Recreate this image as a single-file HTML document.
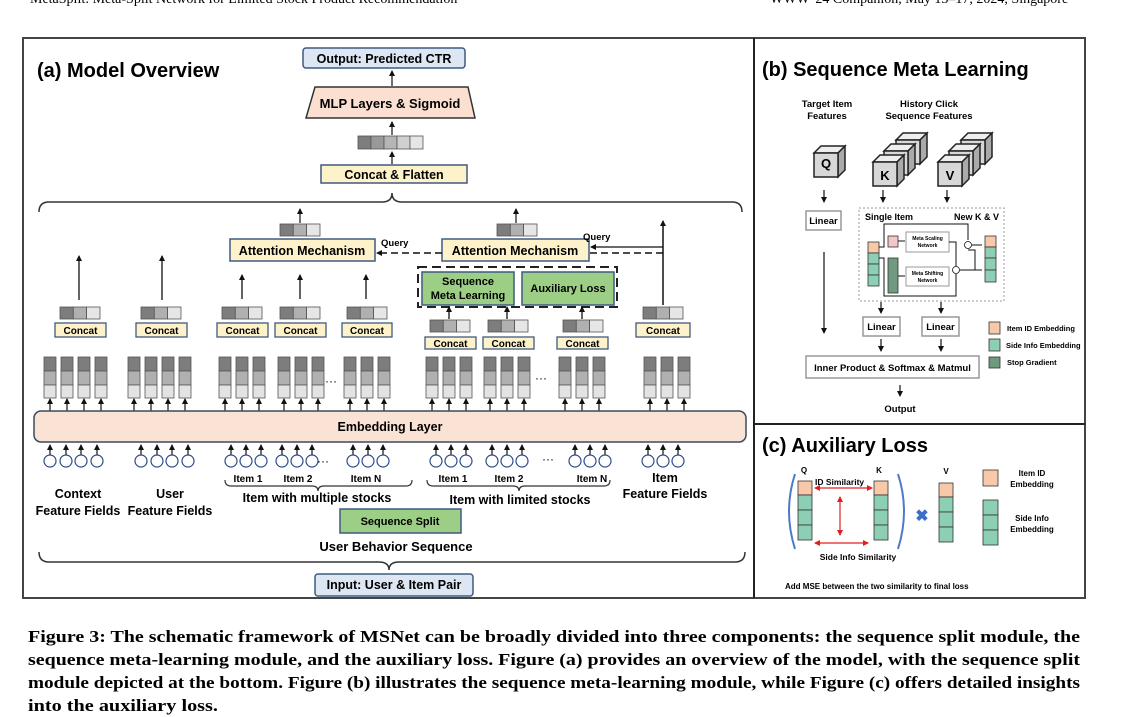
<!DOCTYPE html>
<html><head><meta charset="utf-8"><style>
html,body{margin:0;padding:0;background:#fff;}
svg{display:block;font-family:"Liberation Sans",sans-serif;}
</style></head><body>
<svg width="1142" height="717" viewBox="0 0 1142 717" xmlns="http://www.w3.org/2000/svg">
<defs>
<marker id="ah" markerWidth="6" markerHeight="6" refX="5" refY="3" orient="auto" markerUnits="userSpaceOnUse"><path d="M0,0 L6,3 L0,6 z" fill="#111"/></marker>
<marker id="rh" markerWidth="6" markerHeight="6" refX="5" refY="3" orient="auto-start-reverse" markerUnits="userSpaceOnUse"><path d="M0,0 L6,3 L0,6 z" fill="#e02020"/></marker>
<g id="col"><rect x="0" y="0" width="12" height="14" fill="#7d7d7d" stroke="#555" stroke-width="0.8"/><rect x="0" y="14" width="12" height="14" fill="#b0b0b0" stroke="#555" stroke-width="0.8"/><rect x="0" y="28" width="12" height="13" fill="#e3e3e3" stroke="#555" stroke-width="0.8"/></g>
<g id="v3"><rect x="0" y="0" width="13.3" height="12" fill="#7d7d7d" stroke="#555" stroke-width="0.8"/><rect x="13.3" y="0" width="13.3" height="12" fill="#b0b0b0" stroke="#555" stroke-width="0.8"/><rect x="26.6" y="0" width="13.4" height="12" fill="#e6e6e6" stroke="#555" stroke-width="0.8"/></g>
<g id="cube"><polygon points="0,7 7,0 31,0 24,7" fill="#eee" stroke="#222" stroke-width="1.5"/><polygon points="24,7 31,0 31,24 24,31" fill="#aaa" stroke="#222" stroke-width="1.5"/><rect x="0" y="7" width="24" height="24" fill="#d8d8d8" stroke="#222" stroke-width="1.5"/></g>
<g id="ca"><line x1="0" y1="0" x2="0" y2="-12" stroke="#111" stroke-width="1.2" marker-end="url(#ah)"/></g>
<g id="cc"><line x1="0" y1="-6" x2="0" y2="-16" stroke="#111" stroke-width="1.2" marker-end="url(#ah)"/><circle cx="0" cy="0" r="6" fill="#fff" stroke="#2d4a8a" stroke-width="1.2"/></g>
</defs>

<!-- header -->
<text x="30" y="3" font-family="Liberation Serif,serif" font-size="14">MetaSplit: Meta-Split Network for Limited Stock Product Recommendation</text>
<text x="770" y="3" font-family="Liberation Serif,serif" font-size="14">WWW '24 Companion, May 13–17, 2024, Singapore</text>

<!-- frame -->
<rect x="23" y="38" width="1062" height="560" fill="none" stroke="#444" stroke-width="2"/>
<line x1="754" y1="38" x2="754" y2="598" stroke="#222" stroke-width="2"/>
<line x1="754" y1="424" x2="1085" y2="424" stroke="#222" stroke-width="2"/>

<!-- (a) -->
<text x="37" y="77" font-size="20" font-weight="bold">(a) Model Overview</text>
<rect x="303" y="48" width="162" height="20" rx="3" fill="#dde6f3" stroke="#3f5a80" stroke-width="1.5"/>
<text x="384" y="63" font-size="12.5" font-weight="bold" text-anchor="middle">Output: Predicted CTR</text>
<line x1="392" y1="86" x2="392" y2="71" stroke="#111" stroke-width="1.2" marker-end="url(#ah)"/>
<polygon points="315,87 468,87 475,118 306,118" fill="#fbe0d2" stroke="#333" stroke-width="1.5"/>
<text x="390" y="108" font-size="13" font-weight="bold" text-anchor="middle">MLP Layers &amp; Sigmoid</text>
<line x1="392" y1="135" x2="392" y2="122" stroke="#111" stroke-width="1.2" marker-end="url(#ah)"/>
<g stroke="#555" stroke-width="0.8"><rect x="358" y="136" width="13" height="13" fill="#7d7d7d"/><rect x="371" y="136" width="13" height="13" fill="#999"/><rect x="384" y="136" width="13" height="13" fill="#b5b5b5"/><rect x="397" y="136" width="13" height="13" fill="#d0d0d0"/><rect x="410" y="136" width="13" height="13" fill="#e6e6e6"/></g>
<line x1="392" y1="164" x2="392" y2="152" stroke="#111" stroke-width="1.2" marker-end="url(#ah)"/>
<rect x="321" y="165" width="146" height="18" fill="#fdf2c9" stroke="#3f5a80" stroke-width="1.5"/>
<text x="394" y="179" font-size="12.5" font-weight="bold" text-anchor="middle">Concat &amp; Flatten</text>
<path d="M39,212 Q39,202 49,202 L382,202 Q392,202 392,193 Q392,202 402,202 L732,202 Q742,202 742,212" fill="none" stroke="#333" stroke-width="1.5"/>

<!-- attention -->
<line x1="300" y1="223" x2="300" y2="209" stroke="#111" stroke-width="1.2" marker-end="url(#ah)"/>
<use href="#v3" x="280" y="224"/>
<rect x="230" y="239" width="145" height="22" fill="#fdf2c9" stroke="#3f5a80" stroke-width="1.5"/>
<text x="302" y="255" font-size="12.5" font-weight="bold" text-anchor="middle">Attention Mechanism</text>
<line x1="516" y1="223" x2="516" y2="209" stroke="#111" stroke-width="1.2" marker-end="url(#ah)"/>
<use href="#v3" x="497" y="224"/>
<rect x="442" y="239" width="147" height="22" fill="#fdf2c9" stroke="#3f5a80" stroke-width="1.5"/>
<text x="515" y="255" font-size="12.5" font-weight="bold" text-anchor="middle">Attention Mechanism</text>
<line x1="442" y1="253" x2="377" y2="253" stroke="#111" stroke-width="1.5" stroke-dasharray="7,4" marker-end="url(#ah)"/>
<text x="381" y="246" font-size="9.5" font-weight="bold">Query</text>
<line x1="663" y1="247" x2="591" y2="247" stroke="#111" stroke-width="1.2" marker-end="url(#ah)"/>
<line x1="663" y1="253" x2="590" y2="253" stroke="#111" stroke-width="1.5" stroke-dasharray="7,4"/>
<text x="583" y="240" font-size="9.5" font-weight="bold">Query</text>
<line x1="663" y1="305" x2="663" y2="221" stroke="#111" stroke-width="1.5" marker-end="url(#ah)"/>
<rect x="418" y="267" width="199" height="40" fill="none" stroke="#222" stroke-width="2" stroke-dasharray="9,5"/>
<rect x="422" y="272" width="92" height="33" fill="#9ccf85" stroke="#3f5a80" stroke-width="1.5"/>
<text x="468" y="285" font-size="11" font-weight="bold" text-anchor="middle">Sequence</text>
<text x="468" y="299" font-size="11" font-weight="bold" text-anchor="middle">Meta Learning</text>
<rect x="522" y="272" width="92" height="33" fill="#9ccf85" stroke="#3f5a80" stroke-width="1.5"/>
<text x="568" y="292" font-size="11" font-weight="bold" text-anchor="middle">Auxiliary Loss</text>

<!-- up arrows -->
<g stroke="#111" stroke-width="1.3" marker-end="url(#ah)">
<line x1="79" y1="300" x2="79" y2="256"/><line x1="162" y1="300" x2="162" y2="256"/>
<line x1="242" y1="299" x2="242" y2="275"/><line x1="300" y1="299" x2="300" y2="275"/><line x1="366" y1="299" x2="366" y2="275"/>
<line x1="449" y1="319" x2="449" y2="307"/><line x1="507" y1="319" x2="507" y2="307"/><line x1="582" y1="319" x2="582" y2="307"/>
</g>
<!-- concat groups -->
<g font-size="10" font-weight="bold" text-anchor="middle">
<use href="#v3" x="60" y="307"/><rect x="55" y="323" width="51" height="14" fill="#fdf2c9" stroke="#3f5a80" stroke-width="1.3"/><text x="80.5" y="334">Concat</text>
<use href="#v3" x="141" y="307"/><rect x="136" y="323" width="51" height="14" fill="#fdf2c9" stroke="#3f5a80" stroke-width="1.3"/><text x="161.5" y="334">Concat</text>
<use href="#v3" x="222" y="307"/><rect x="217" y="323" width="51" height="14" fill="#fdf2c9" stroke="#3f5a80" stroke-width="1.3"/><text x="242.5" y="334">Concat</text>
<use href="#v3" x="280" y="307"/><rect x="275" y="323" width="51" height="14" fill="#fdf2c9" stroke="#3f5a80" stroke-width="1.3"/><text x="300.5" y="334">Concat</text>
<use href="#v3" x="347" y="307"/><rect x="342" y="323" width="50" height="14" fill="#fdf2c9" stroke="#3f5a80" stroke-width="1.3"/><text x="367" y="334">Concat</text>
<use href="#v3" x="643" y="307"/><rect x="636" y="323" width="54" height="14" fill="#fdf2c9" stroke="#3f5a80" stroke-width="1.3"/><text x="663" y="334">Concat</text>
<use href="#v3" x="430" y="320"/><rect x="425" y="337" width="51" height="12" fill="#fdf2c9" stroke="#3f5a80" stroke-width="1.3"/><text x="450.5" y="347">Concat</text>
<use href="#v3" x="488" y="320"/><rect x="483" y="337" width="51" height="12" fill="#fdf2c9" stroke="#3f5a80" stroke-width="1.3"/><text x="508.5" y="347">Concat</text>
<use href="#v3" x="563" y="320"/><rect x="557" y="337" width="51" height="12" fill="#fdf2c9" stroke="#3f5a80" stroke-width="1.3"/><text x="582.5" y="347">Concat</text>
</g>

<!-- embedding columns -->
<g>
<use href="#col" x="44" y="357"/><use href="#col" x="61" y="357"/><use href="#col" x="78" y="357"/><use href="#col" x="95" y="357"/>
<use href="#col" x="128" y="357"/><use href="#col" x="145" y="357"/><use href="#col" x="162" y="357"/><use href="#col" x="179" y="357"/>
<use href="#col" x="219" y="357"/><use href="#col" x="236" y="357"/><use href="#col" x="253" y="357"/>
<use href="#col" x="278" y="357"/><use href="#col" x="295" y="357"/><use href="#col" x="312" y="357"/>
<use href="#col" x="344" y="357"/><use href="#col" x="361" y="357"/><use href="#col" x="378" y="357"/>
<use href="#col" x="426" y="357"/><use href="#col" x="443" y="357"/><use href="#col" x="460" y="357"/>
<use href="#col" x="484" y="357"/><use href="#col" x="501" y="357"/><use href="#col" x="518" y="357"/>
<use href="#col" x="559" y="357"/><use href="#col" x="576" y="357"/><use href="#col" x="593" y="357"/>
<use href="#col" x="644" y="357"/><use href="#col" x="661" y="357"/><use href="#col" x="678" y="357"/>
</g>
<text x="331" y="385" font-size="12" text-anchor="middle">···</text>
<text x="541" y="382" font-size="12" text-anchor="middle">···</text>
<g transform="translate(0,411)">
<use href="#ca" x="50"/><use href="#ca" x="67"/><use href="#ca" x="84"/><use href="#ca" x="101"/>
<use href="#ca" x="134"/><use href="#ca" x="151"/><use href="#ca" x="168"/><use href="#ca" x="185"/>
<use href="#ca" x="225"/><use href="#ca" x="242"/><use href="#ca" x="259"/>
<use href="#ca" x="284"/><use href="#ca" x="301"/><use href="#ca" x="318"/>
<use href="#ca" x="350"/><use href="#ca" x="367"/><use href="#ca" x="384"/>
<use href="#ca" x="432"/><use href="#ca" x="449"/><use href="#ca" x="466"/>
<use href="#ca" x="490"/><use href="#ca" x="507"/><use href="#ca" x="524"/>
<use href="#ca" x="565"/><use href="#ca" x="582"/><use href="#ca" x="599"/>
<use href="#ca" x="650"/><use href="#ca" x="667"/><use href="#ca" x="684"/>
</g>
<rect x="34" y="411" width="712" height="31" rx="7" fill="#fae3d5" stroke="#3c4a5c" stroke-width="1.5"/>
<text x="390" y="431" font-size="12.5" font-weight="bold" text-anchor="middle">Embedding Layer</text>
<g transform="translate(0,461)">
<use href="#cc" x="50"/><use href="#cc" x="66"/><use href="#cc" x="81"/><use href="#cc" x="97"/>
<use href="#cc" x="141"/><use href="#cc" x="157"/><use href="#cc" x="172"/><use href="#cc" x="188"/>
<use href="#cc" x="231"/><use href="#cc" x="246"/><use href="#cc" x="261"/>
<use href="#cc" x="282"/><use href="#cc" x="297"/><use href="#cc" x="312"/>
<use href="#cc" x="353"/><use href="#cc" x="368"/><use href="#cc" x="383"/>
<use href="#cc" x="436"/><use href="#cc" x="451"/><use href="#cc" x="466"/>
<use href="#cc" x="492"/><use href="#cc" x="507"/><use href="#cc" x="522"/>
<use href="#cc" x="575"/><use href="#cc" x="590"/><use href="#cc" x="605"/>
<use href="#cc" x="648"/><use href="#cc" x="663"/><use href="#cc" x="678"/>
</g>
<text x="323" y="465" font-size="12" text-anchor="middle">···</text>
<text x="548" y="463" font-size="12" text-anchor="middle">···</text>
<g font-size="10" font-weight="bold" text-anchor="middle">
<text x="248" y="482">Item 1</text><text x="298" y="482">Item 2</text><text x="366" y="482">Item N</text>
<text x="453" y="482">Item 1</text><text x="509" y="482">Item 2</text><text x="592" y="482">Item N</text>
</g>
<path d="M225,480 Q225,486 231,486 L312,486 Q318,486 318,491 Q318,486 324,486 L406,486 Q412,486 412,480" fill="none" stroke="#333" stroke-width="1.2"/>
<path d="M427,480 Q427,486 433,486 L513,486 Q519,486 519,491 Q519,486 525,486 L604,486 Q610,486 610,480" fill="none" stroke="#333" stroke-width="1.2"/>
<g font-size="12.5" font-weight="bold" text-anchor="middle">
<text x="317" y="502">Item with multiple stocks</text>
<text x="520" y="504">Item with limited stocks</text>
<text x="78" y="498">Context</text><text x="78" y="515">Feature Fields</text>
<text x="170" y="498">User</text><text x="170" y="515">Feature Fields</text>
<text x="665" y="482">Item</text><text x="665" y="498">Feature Fields</text>
</g>
<rect x="340" y="509" width="121" height="24" fill="#9ccf85" stroke="#3f5a80" stroke-width="1.5"/>
<text x="400" y="525" font-size="11" font-weight="bold" text-anchor="middle">Sequence Split</text>
<text x="396" y="551" font-size="13" font-weight="bold" text-anchor="middle">User Behavior Sequence</text>
<path d="M39,552 Q39,562 49,562 L379,562 Q389,562 389,570 Q389,562 399,562 L735,562 Q745,562 745,552" fill="none" stroke="#333" stroke-width="1.5"/>
<rect x="315" y="574" width="158" height="22" rx="3" fill="#dde6f3" stroke="#3f5a80" stroke-width="1.5"/>
<text x="394" y="589" font-size="12.5" font-weight="bold" text-anchor="middle">Input: User &amp; Item Pair</text>

<!-- (b) -->
<text x="762" y="76" font-size="20" font-weight="bold">(b) Sequence Meta Learning</text>
<g font-size="9.5" font-weight="bold" text-anchor="middle">
<text x="827" y="107">Target Item</text><text x="827" y="119">Features</text>
<text x="929" y="107">History Click</text><text x="929" y="119">Sequence Features</text>
</g>
<use href="#cube" x="814" y="146"/>
<text x="826" y="168" font-size="13" font-weight="bold" text-anchor="middle">Q</text>
<use href="#cube" x="896" y="133"/><use href="#cube" x="884" y="144"/><use href="#cube" x="873" y="155"/>
<text x="885" y="180" font-size="13" font-weight="bold" text-anchor="middle">K</text>
<use href="#cube" x="961" y="133"/><use href="#cube" x="949" y="144"/><use href="#cube" x="938" y="155"/>
<text x="950" y="180" font-size="13" font-weight="bold" text-anchor="middle">V</text>
<g stroke="#111" stroke-width="1.2" marker-end="url(#ah)">
<line x1="824" y1="190" x2="824" y2="202"/><line x1="883" y1="190" x2="883" y2="202"/><line x1="947" y1="190" x2="947" y2="202"/>
<line x1="824" y1="252" x2="824" y2="333"/>
<line x1="881" y1="302" x2="881" y2="313"/><line x1="941" y1="302" x2="941" y2="313"/>
<line x1="881" y1="339" x2="881" y2="351"/><line x1="941" y1="339" x2="941" y2="351"/>
<line x1="900" y1="385" x2="900" y2="396"/>
</g>
<rect x="806" y="211" width="35" height="19" fill="#fff" stroke="#999" stroke-width="1.5"/>
<text x="823.5" y="224" font-size="9.5" font-weight="bold" text-anchor="middle">Linear</text>
<rect x="859" y="208" width="145" height="93" fill="none" stroke="#999" stroke-width="1" stroke-dasharray="2,2"/>
<text x="865" y="220" font-size="9" font-weight="bold">Single Item</text>
<text x="999" y="220" font-size="9" font-weight="bold" text-anchor="end">New K &amp; V</text>
<!-- inner -->
<rect x="868" y="242" width="11" height="11" fill="#f8c9a8" stroke="#333" stroke-width="0.8"/>
<rect x="868" y="253" width="11" height="11" fill="#8ccfb5" stroke="#333" stroke-width="0.8"/>
<rect x="868" y="264" width="11" height="11" fill="#8ccfb5" stroke="#333" stroke-width="0.8"/>
<rect x="868" y="275" width="11" height="11" fill="#8ccfb5" stroke="#333" stroke-width="0.8"/>
<rect x="888" y="236" width="10" height="11" fill="#f4c6c6" stroke="#333" stroke-width="0.8"/>
<rect x="888" y="258" width="10" height="35" fill="#6f9a80" stroke="#333" stroke-width="0.8"/>
<rect x="906" y="232" width="43" height="20" fill="#fff" stroke="#999" stroke-width="1"/>
<text x="927.5" y="240" font-size="5" font-weight="bold" text-anchor="middle">Meta Scaling</text><text x="927.5" y="247" font-size="5" font-weight="bold" text-anchor="middle">Network</text>
<rect x="906" y="267" width="43" height="19" fill="#fff" stroke="#999" stroke-width="1"/>
<text x="927.5" y="275" font-size="5" font-weight="bold" text-anchor="middle">Meta Shifting</text><text x="927.5" y="282" font-size="5" font-weight="bold" text-anchor="middle">Network</text>
<g fill="none" stroke="#111" stroke-width="1">
<path d="M879,247 L884,247 L884,224 L968,224 L968,240"/>
<path d="M879,258 L884,258 L884,296 L956,296 L956,274"/>
<line x1="898" y1="241" x2="905" y2="241"/><line x1="898" y1="276" x2="905" y2="276"/>
<path d="M949,242 L956,242 L956,266"/>
<path d="M960,270 L975,270 L975,250 L968,250"/>
<line x1="972" y1="245" x2="982" y2="245"/><line x1="961" y1="270" x2="982" y2="270"/>
</g>
<circle cx="968" cy="245" r="3.5" fill="#fff" stroke="#111" stroke-width="0.8"/>
<circle cx="956" cy="270" r="3.5" fill="#fff" stroke="#111" stroke-width="0.8"/>
<rect x="985" y="236" width="11" height="11" fill="#f8c9a8" stroke="#333" stroke-width="0.8"/>
<rect x="985" y="247" width="11" height="11" fill="#8ccfb5" stroke="#333" stroke-width="0.8"/>
<rect x="985" y="258" width="11" height="12" fill="#8ccfb5" stroke="#333" stroke-width="0.8"/>
<rect x="985" y="270" width="11" height="12" fill="#8ccfb5" stroke="#333" stroke-width="0.8"/>
<rect x="863" y="317" width="37" height="19" fill="#fff" stroke="#999" stroke-width="1.5"/>
<text x="881.5" y="330" font-size="9.5" font-weight="bold" text-anchor="middle">Linear</text>
<rect x="922" y="317" width="37" height="19" fill="#fff" stroke="#999" stroke-width="1.5"/>
<text x="940.5" y="330" font-size="9.5" font-weight="bold" text-anchor="middle">Linear</text>
<rect x="806" y="356" width="173" height="22" fill="#fff" stroke="#999" stroke-width="1.5"/>
<text x="892.5" y="371" font-size="9.5" font-weight="bold" text-anchor="middle">Inner Product &amp; Softmax &amp; Matmul</text>
<text x="900" y="412" font-size="9.5" font-weight="bold" text-anchor="middle">Output</text>
<rect x="989" y="322" width="11" height="12" fill="#f8c9a8" stroke="#333" stroke-width="0.8"/>
<rect x="989" y="339" width="11" height="12" fill="#8ccfb5" stroke="#333" stroke-width="0.8"/>
<rect x="989" y="357" width="11" height="11" fill="#6f9a80" stroke="#333" stroke-width="0.8"/>
<g font-size="7.5" font-weight="bold"><text x="1007" y="331">Item ID Embedding</text><text x="1006" y="348">Side Info Embedding</text><text x="1007" y="365">Stop Gradient</text></g>

<!-- (c) -->
<text x="762" y="452" font-size="20" font-weight="bold">(c) Auxiliary Loss</text>
<g font-size="8" font-weight="bold" text-anchor="middle"><text x="804" y="473">Q</text><text x="879" y="473">K</text><text x="946" y="474">V</text></g>
<path d="M795,474 Q783,511 795,549" fill="none" stroke="#4a7ac8" stroke-width="2"/>
<path d="M898,474 Q910,511 898,549" fill="none" stroke="#4a7ac8" stroke-width="2"/>
<g stroke="#333" stroke-width="0.8">
<rect x="798" y="481" width="14" height="14" fill="#f8c9a8"/><rect x="798" y="495" width="14" height="15" fill="#8ccfb5"/><rect x="798" y="510" width="14" height="15" fill="#8ccfb5"/><rect x="798" y="525" width="14" height="15" fill="#8ccfb5"/>
<rect x="874" y="481" width="14" height="14" fill="#f8c9a8"/><rect x="874" y="495" width="14" height="15" fill="#8ccfb5"/><rect x="874" y="510" width="14" height="15" fill="#8ccfb5"/><rect x="874" y="525" width="14" height="15" fill="#8ccfb5"/>
<rect x="939" y="483" width="14" height="14" fill="#f8c9a8"/><rect x="939" y="497" width="14" height="15" fill="#8ccfb5"/><rect x="939" y="512" width="14" height="15" fill="#8ccfb5"/><rect x="939" y="527" width="14" height="15" fill="#8ccfb5"/>
<rect x="983" y="470" width="15" height="16" fill="#f8c9a8"/>
<rect x="983" y="500" width="15" height="15" fill="#8ccfb5"/><rect x="983" y="515" width="15" height="15" fill="#8ccfb5"/><rect x="983" y="530" width="15" height="15" fill="#8ccfb5"/>
</g>
<g stroke="#e02020" stroke-width="1.2" marker-start="url(#rh)" marker-end="url(#rh)">
<line x1="815" y1="488" x2="872" y2="488"/><line x1="840" y1="497" x2="840" y2="535"/><line x1="815" y1="543" x2="868" y2="543"/>
</g>
<text x="815" y="485" font-size="8.5" font-weight="bold">ID Similarity</text>
<text x="858" y="560" font-size="8.5" font-weight="bold" text-anchor="middle">Side Info Similarity</text>
<text x="922" y="521" font-size="16" font-weight="bold" fill="#3a6fc4" text-anchor="middle">✖</text>
<g font-size="8" font-weight="bold" text-anchor="middle"><text x="1032" y="476">Item ID</text><text x="1032" y="487">Embedding</text><text x="1032" y="521">Side Info</text><text x="1032" y="532">Embedding</text></g>
<text x="785" y="589" font-size="8" font-weight="bold">Add MSE between the two similarity to final loss</text>

<!-- caption -->
<g font-family="Liberation Serif,serif" font-size="16.5" font-weight="bold">
<text x="28" y="642" textLength="1052" lengthAdjust="spacingAndGlyphs">Figure 3: The schematic framework of MSNet can be broadly divided into three components: the sequence split module, the</text>
<text x="28" y="665" textLength="1052" lengthAdjust="spacingAndGlyphs">sequence meta-learning module, and the auxiliary loss. Figure (a) provides an overview of the model, with the sequence split</text>
<text x="28" y="688" textLength="1052" lengthAdjust="spacingAndGlyphs">module depicted at the bottom. Figure (b) illustrates the sequence meta-learning module, while Figure (c) offers detailed insights</text>
<text x="28" y="711" textLength="190" lengthAdjust="spacingAndGlyphs">into the auxiliary loss.</text>
</g>
</svg>
</body></html>
